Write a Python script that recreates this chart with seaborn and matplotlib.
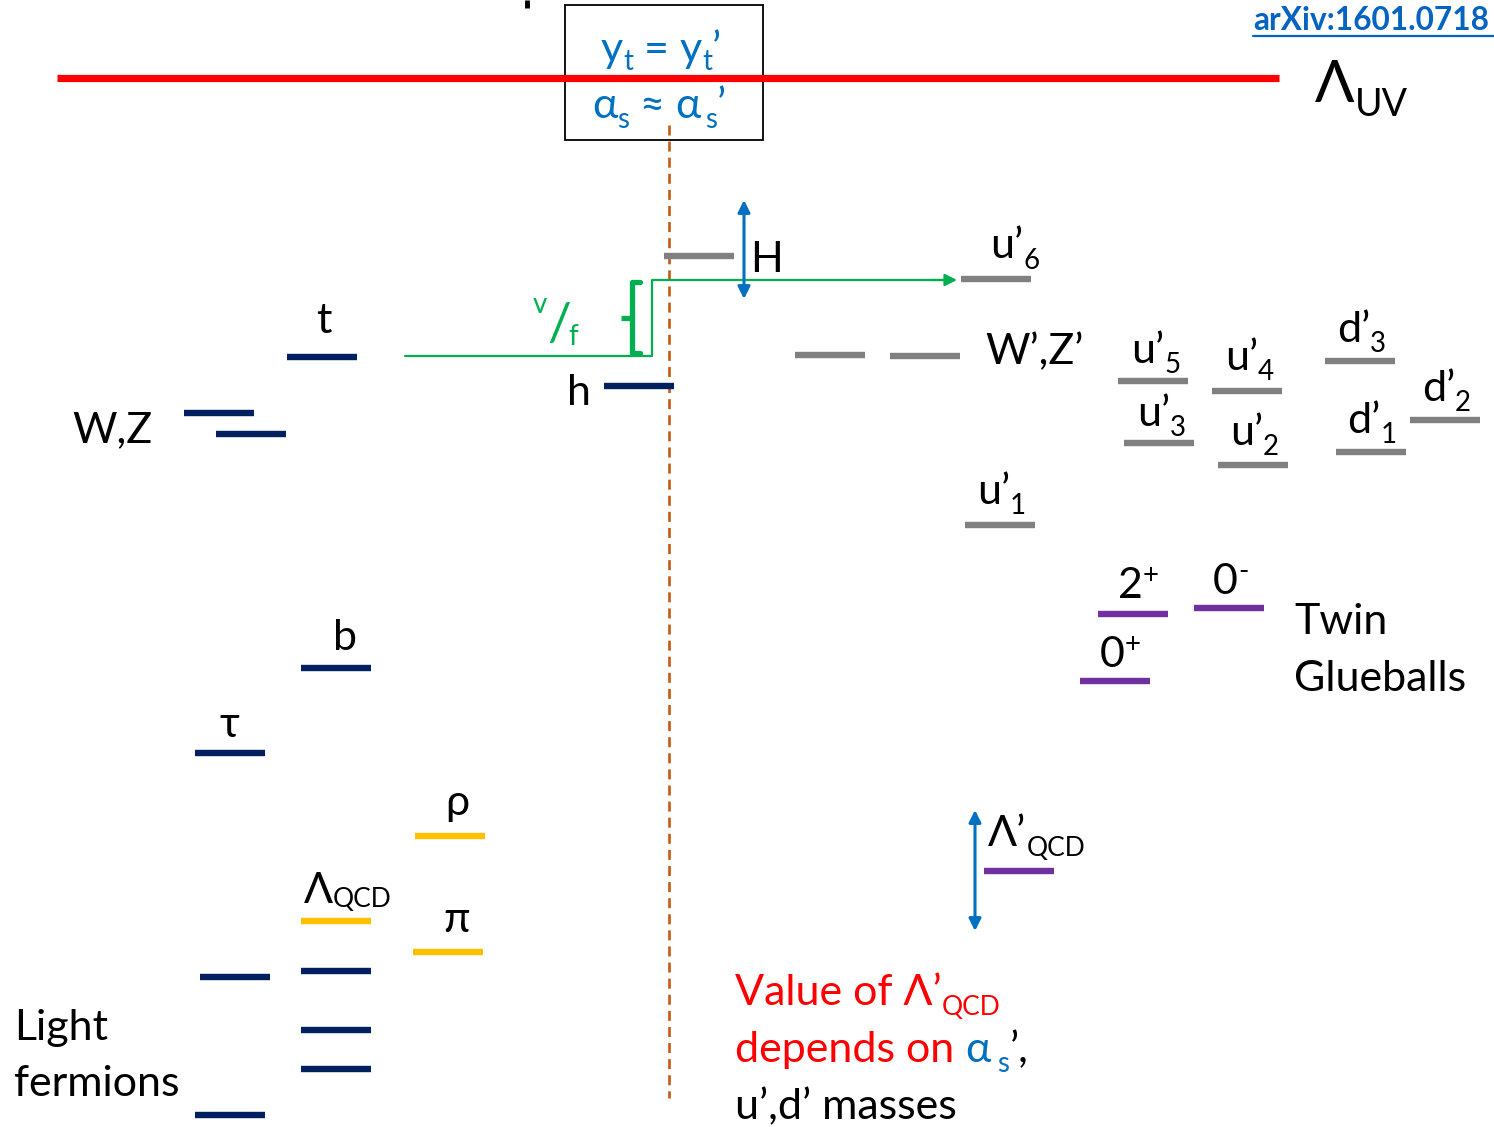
import numpy as np
import pandas as pd
import seaborn as sns
import matplotlib
matplotlib.use("Agg")
import matplotlib.pyplot as plt
from matplotlib.patches import Rectangle

sns.set_theme(style="white")
plt.rcParams['font.family'] = ['Lato', 'DejaVu Sans']

# ---------------- data: energy levels (left x of each level, energy y) ----------------
sm_names = ["t", "W", "Z", "h", "b", "tau", "f1", "f2", "f3", "f4", "f5"]
sm_x = [287, 184, 216, 604, 301, 195, 200, 301, 301, 301, 195]
sm_y = [357, 413, 434, 386, 668, 753, 977, 971, 1030, 1069, 1115]

had_names = ["rho", "LambdaQCD", "pi"]
had_x = [415, 301, 413]
had_y = [836, 921, 952]

twin_names = ["H", "u6", "W'", "Z'", "u5", "u4", "d3", "d2", "u3", "u2", "d1", "u1"]
twin_x = [664, 961, 795, 890, 1118, 1212, 1325, 1410, 1124, 1218, 1336, 965]
twin_y = [256, 279, 355, 356, 381, 391, 361, 420, 443, 465, 452, 525]

glue_names = ["2+", "0-", "0+", "LambdaQCD'"]
glue_x = [1098, 1194, 1080, 984]
glue_y = [614, 608, 681, 871]

LEVEL_W = 70

rows = []
for kind, names, xs, ys in [("sm", sm_names, sm_x, sm_y),
                            ("hadron", had_names, had_x, had_y),
                            ("twin", twin_names, twin_x, twin_y),
                            ("glue", glue_names, glue_x, glue_y)]:
    for n, x, y in zip(names, xs, ys):
        rows.append(dict(level=f"{kind}:{n}", kind=kind, x=x, y=y))
        rows.append(dict(level=f"{kind}:{n}", kind=kind, x=x + LEVEL_W, y=y))
df = pd.DataFrame(rows)

palette = {"sm": "#002060", "hadron": "#FFC000", "twin": "#808080", "glue": "#7030A0"}
BLUE = "#0070C0"
GREEN = "#00B050"
RED = "#FF0000"
ORANGE = "#C55A11"

W, H = 1494, 1127
fig = plt.figure(figsize=(W / 100, H / 100), dpi=100)
ax = fig.add_axes([0, 0, 1, 1])

sns.lineplot(data=df, x="x", y="y", units="level", estimator=None, hue="kind",
             palette=palette, linewidth=4.6, legend=False, ax=ax,
             solid_capstyle="butt")

ax.set_xlim(0, W)
ax.set_ylim(H, 0)
ax.axis("off")

# ---------------- lines / shapes ----------------
# dashed separator
ax.plot([669, 669], [125, 1098], color=ORANGE, lw=1.9, dashes=(3.8, 2.3), zorder=1)
# box
ax.add_patch(Rectangle((565, 5), 198, 135, fill=False, ec="black", lw=1.3, zorder=3))
# UV line
ax.plot([57, 1279], [78, 78], color=RED, lw=5.2, solid_capstyle="butt", zorder=4)
# small cut-off glyph at top
ax.plot([527, 527], [0, 8], color="black", lw=3.5, solid_capstyle="butt")

# green v/f step
ax.plot([405, 652, 652, 945], [356, 356, 280, 280], color=GREEN, lw=1.6, zorder=2)
ax.annotate("", xy=(957, 280), xytext=(930, 280),
            arrowprops=dict(arrowstyle="-|>", color=GREEN, lw=1.6,
                            mutation_scale=18, shrinkA=0, shrinkB=0))
# green bracket
ax.plot([640, 632, 632, 640], [282, 282, 353, 353], color=GREEN, lw=3.8,
        solid_capstyle="round", solid_joinstyle="round")
ax.plot([621, 632], [318, 318], color=GREEN, lw=3.8, solid_capstyle="butt")

# blue double arrows
for xa, y0, y1 in [(744, 200, 299), (975, 810, 931)]:
    ax.annotate("", xy=(xa, y0), xytext=(xa, y1),
                arrowprops=dict(arrowstyle="<|-|>", color=BLUE, lw=2.2,
                                mutation_scale=18, shrinkA=0, shrinkB=0))

# ---------------- text ----------------
renderer = fig.canvas.get_renderer()
inv = ax.transData.inverted()


def rich(x, y, segs):
    cx = x
    for seg in segs:
        text, size, dy, color = seg[:4]
        weight = seg[4] if len(seg) > 4 else "normal"
        t = ax.text(cx, y + dy, text, fontsize=size, color=color, va="baseline",
                    ha="left", fontweight=weight, zorder=5)
        bb = t.get_window_extent(renderer)
        cx = inv.transform((bb.x1, bb.y0))[0]
    return cx


M = 31   # main label size
S = 20   # subscript size
K = "black"

rich(316, 333, [("t", M, 0, K)])
rich(72, 442, [("W,Z", M, 0, K)])
rich(567, 405, [("h", M, 0, K)])
rich(333, 650, [("b", M, 0, K)])
rich(219, 737, [("τ", M, 0, K)])
rich(445, 815, [("ρ", M, 0, K)])
rich(304, 903, [("Λ", M, 0, K), ("QCD", 19, 4, K)])
rich(443, 932, [("π", M, 0, K)])
rich(14, 1040, [("Light", M, 0, K)])
rich(14, 1096, [("fermions", M, 0, K)])

rich(750, 272, [("H", M, 0, K)])
rich(990, 258, [("u’", M, 0, K), ("6", S, 11, K)])
rich(985, 364, [("W’,Z’", M, 0, K)])
rich(1131, 363, [("u’", M, 0, K), ("5", S, 10, K)])
rich(1225, 370, [("u’", M, 0, K), ("4", S, 10, K)])
rich(1337, 342, [("d’", M, 0, K), ("3", S, 10, K)])
rich(1422, 401, [("d’", M, 0, K), ("2", S, 10, K)])
rich(1137, 426, [("u’", M, 0, K), ("3", S, 10, K)])
rich(1230, 445, [("u’", M, 0, K), ("2", S, 10, K)])
rich(1347, 433, [("d’", M, 0, K), ("1", S, 10, K)])
rich(977, 504, [("u’", M, 0, K), ("1", S, 10, K)])

rich(1118, 598, [("2", M, 0, K), ("+", S, -14, K)])
rich(1213, 594, [("0", M, 0, K), ("-", S, -14, K)])
rich(1100, 667, [("0", M, 0, K), ("+", S, -14, K)])
rich(1294, 634, [("Twin", M, 0, K)])
rich(1294, 691, [("Glueballs", M, 0, K)])

rich(988, 846, [("Λ’", M, 0, K), ("QCD", 19, 10, K)])

rich(735, 1005, [("Value of Λ’", M, 0, RED), ("QCD", 19, 10, RED)])
rich(735, 1062, [("depends on ", M, 0, RED), ("α", M, 0, BLUE), ("  ", 10, 0, BLUE),
                 ("s", S, 10, BLUE), ("’,", M, 0, K)])
rich(735, 1119, [("u’,d’ masses", M, 0, K)])

# box texts
rich(601, 62, [("y", M, 0, BLUE), ("t", S, 8, BLUE), (" = y", M, 0, BLUE),
               ("t", S, 8, BLUE), ("’", M, 0, BLUE)])
rich(592, 118, [("α", M, 0, BLUE), ("s", S, 10, BLUE), (" ≈ α", M, 0, BLUE),
                (" ", 8, 0, BLUE), ("s", S, 10, BLUE), ("’", M, 0, BLUE)])

# v/f
rich(533, 313, [("v", 20, 0, GREEN)])
rich(547, 340, [("/", 38, 0, GREEN)])
rich(568, 345, [("f", 20, 0, GREEN)])

# Lambda UV
rich(1315, 102, [("Λ", 42, 0, K), ("UV", 27, 14, K)])

# arXiv link
rich(1253, 30, [("arXiv:1601.0718", 22.8, 0, "#0563C1", "bold")])
ax.plot([1253, 1494], [36, 36], color="#0563C1", lw=1.6)

fig.savefig("out.png", dpi=100)
